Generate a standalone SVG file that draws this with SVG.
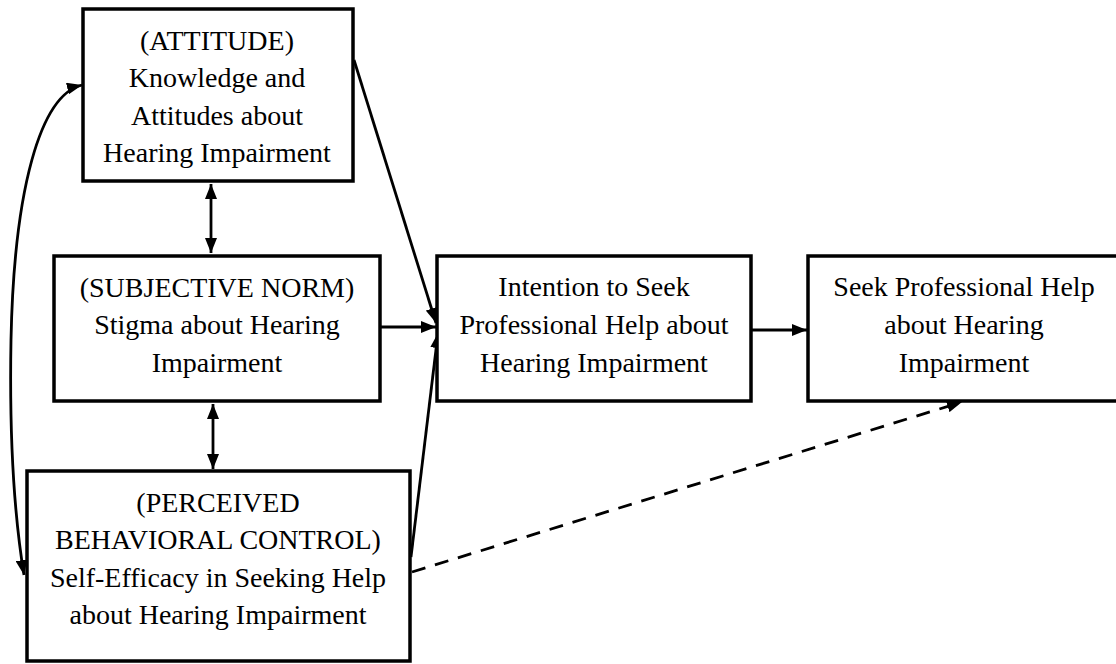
<svg xmlns="http://www.w3.org/2000/svg" width="1116" height="664" viewBox="0 0 1116 664">
<style>
.box{fill:#fff;stroke:#000;stroke-width:3.5}
.t{font-family:"Liberation Serif","Times New Roman",serif;font-size:28px;fill:#000;text-anchor:middle}
.c{fill:none;stroke:#000;stroke-width:2.8}
.d{stroke-dasharray:14 10}
</style>
<defs>
<marker id="ah" markerUnits="userSpaceOnUse" markerWidth="15" markerHeight="12" refX="15" refY="6" orient="auto-start-reverse">
<path d="M0,0 L15,6 L0,12 z" fill="#000"/>
</marker>
</defs>
<rect width="1116" height="664" fill="#fff"/>
<g id="connectors">
<path class="c" d="M211,184 L211,253" marker-start="url(#ah)" marker-end="url(#ah)"/>
<path class="c" d="M213,404 L213,469" marker-start="url(#ah)" marker-end="url(#ah)"/>
<path class="c" d="M82,85 C40,95 14,190 11,340 C9,450 15,520 24,575" marker-start="url(#ah)" marker-end="url(#ah)"/>
<path class="c" d="M354,60 L436,323" marker-end="url(#ah)"/>
<path class="c" d="M381,327 L436,327" marker-end="url(#ah)"/>
<path class="c" d="M411,557 L438,333" marker-end="url(#ah)"/>
<path class="c" d="M752,330 L807,330" marker-end="url(#ah)"/>
<path class="c d" d="M412,572 L962,402" marker-end="url(#ah)"/>
</g>
<g id="attitude">
<rect class="box" x="83" y="9" width="270" height="172"/>
<text class="t" x="217" y="50">(ATTITUDE)</text>
<text class="t" x="217" y="87">Knowledge and</text>
<text class="t" x="217" y="125">Attitudes about</text>
<text class="t" x="217" y="162">Hearing Impairment</text>
</g>
<g id="subjective-norm">
<rect class="box" x="54" y="256" width="326" height="145"/>
<text class="t" x="217" y="297">(SUBJECTIVE NORM)</text>
<text class="t" x="217" y="334">Stigma about Hearing</text>
<text class="t" x="217" y="372">Impairment</text>
</g>
<g id="pbc">
<rect class="box" x="27" y="471" width="383" height="190"/>
<text class="t" x="218" y="512">(PERCEIVED</text>
<text class="t" x="218" y="549">BEHAVIORAL CONTROL)</text>
<text class="t" x="218" y="587">Self-Efficacy in Seeking Help</text>
<text class="t" x="218" y="624">about Hearing Impairment</text>
</g>
<g id="intention">
<rect class="box" x="437" y="256" width="314" height="145"/>
<text class="t" x="594" y="296">Intention to Seek</text>
<text class="t" x="594" y="334">Professional Help about</text>
<text class="t" x="594" y="372">Hearing Impairment</text>
</g>
<g id="behavior">
<rect class="box" x="808" y="256" width="314" height="145"/>
<text class="t" x="964" y="296">Seek Professional Help</text>
<text class="t" x="964" y="334">about Hearing</text>
<text class="t" x="964" y="372">Impairment</text>
</g>
</svg>
